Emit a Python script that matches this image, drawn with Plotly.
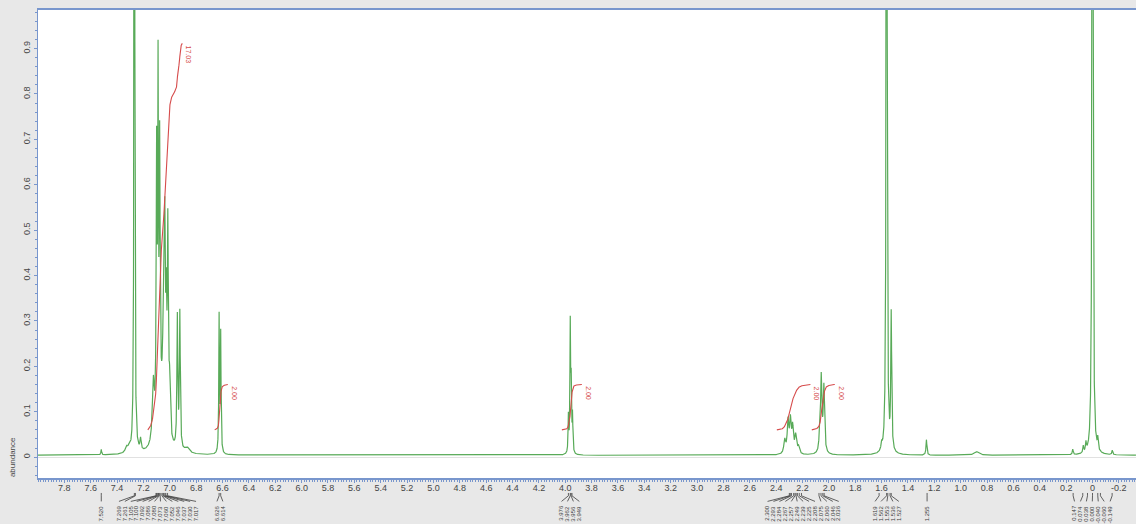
import numpy as np
import plotly.graph_objects as go

# ---- resolved lines of the 1H spectrum: shift (ppm), height, half-width (ppm)
peak_shift = [7.520, 7.330, 7.310, 7.269, 7.222, 7.125, 7.100, 7.089, 7.077, 7.060,
              7.048, 7.038, 7.027, 7.015, 7.002, 6.943, 6.924, 6.870, 6.626, 6.614,
              3.976, 3.962, 3.955, 3.945, 2.335, 2.310, 2.292, 2.275, 2.252, 2.230,
              2.070, 2.058, 2.038, 1.600, 1.562, 1.527, 1.260, 0.880, 0.150, 0.070,
              0.050, 0.000, -0.040, -0.150]
peak_height = [0.012, 0.012, 0.010, 3.000, 0.025, 0.130, 0.600, 0.720, 0.580, 0.100,
               0.200, 0.380, 0.250, 0.430, 0.120, 0.290, 0.300, 0.012, 0.300, 0.260,
               0.080, 0.280, 0.140, 0.080, 0.030, 0.070, 0.070, 0.055, 0.040, 0.015,
               0.030, 0.165, 0.145, 0.015, 3.000, 0.300, 0.034, 0.008, 0.012, 0.015,
               0.020, 5.000, 0.025, 0.010]
peak_hwhm = [0.003, 0.010, 0.010, 0.0025, 0.005, 0.009, 0.004, 0.003, 0.004, 0.030,
             0.006, 0.004, 0.005, 0.004, 0.006, 0.004, 0.004, 0.020, 0.003, 0.003,
             0.003, 0.003, 0.003, 0.003, 0.008, 0.007, 0.007, 0.007, 0.008, 0.008,
             0.006, 0.006, 0.006, 0.005, 0.003, 0.004, 0.004, 0.020, 0.004, 0.004,
             0.004, 0.0025, 0.004, 0.004]
baseline_level = 0.004

# ---- integrated regions (ppm limits) and their relative integrals
integral_start = [7.167, 6.660, 4.026, 2.395, 2.130]
integral_end = [6.905, 6.560, 3.874, 2.140, 1.955]
integral_value = [17.03, 2.00, 2.00, 2.00, 2.00]

# ---- picked peaks printed under the axis
pick_groups = [
    [7.520],
    [7.269, 7.261, 7.105, 7.100, 7.092, 7.086, 7.080, 7.073, 7.060, 7.052, 7.046, 7.037, 7.030, 7.017],
    [6.626, 6.614],
    [3.976, 3.962, 3.956, 3.949],
    [2.300, 2.293, 2.284, 2.267, 2.257, 2.249, 2.239, 2.225, 2.208, 2.075, 2.060, 2.046, 2.036],
    [1.619, 1.562, 1.553, 1.536, 1.527],
    [1.255],
    [0.147, 0.074, 0.038, 0.000, -0.040, -0.060, -0.149],
]

x_range = [8.0, -0.33]
y_range = [-0.046, 0.985]
x_ticks = [7.8, 7.6, 7.4, 7.2, 7.0, 6.8, 6.6, 6.4, 6.2, 6.0, 5.8, 5.6, 5.4, 5.2, 5.0,
           4.8, 4.6, 4.4, 4.2, 4.0, 3.8, 3.6, 3.4, 3.2, 3.0, 2.8, 2.6, 2.4, 2.2, 2.0,
           1.8, 1.6, 1.4, 1.2, 1.0, 0.8, 0.6, 0.4, 0.2, 0.0, -0.2]
y_ticks = [0, 0.1, 0.2, 0.3, 0.4, 0.5, 0.6, 0.7, 0.8, 0.9]

GREEN = "rgb(88,170,88)"
RED = "rgb(214,76,76)"
RULER = "rgb(120,150,205)"
TXT = "rgb(70,70,70)"

# ---- spectrum as a sum of Lorentzian lines
ppm = np.arange(x_range[0], x_range[1], -0.0004)
spec = np.full_like(ppm, baseline_level)
for c, h, w in zip(peak_shift, peak_height, peak_hwhm):
    spec += h * w * w / ((ppm - c) ** 2 + w * w)

fig = go.Figure()
fig.add_trace(go.Scatter(x=ppm, y=spec, mode="lines",
                         line=dict(color=GREEN, width=1.2), hoverinfo="skip"))

# ---- integral curves (running integral, scaled to the stated value)
INT_OFFSET = 0.06
INT_SCALE = 0.05
for s, e, v in zip(integral_start, integral_end, integral_value):
    m = (ppm <= s) & (ppm >= e)
    seg = np.clip(spec[m] - baseline_level, 0, None)
    cum = np.concatenate([[0.0], np.cumsum(0.5 * (seg[1:] + seg[:-1]))])
    cum = cum / cum[-1] * v * INT_SCALE + INT_OFFSET
    fig.add_trace(go.Scatter(x=ppm[m], y=cum, mode="lines",
                             line=dict(color=RED, width=1.1), hoverinfo="skip"))
    fig.add_annotation(x=ppm[m][-1], y=cum[-1], xref="x", yref="y",
                       text=f"{v:.2f}", showarrow=False, textangle=90,
                       xanchor="left", yanchor="top", xshift=1,
                       font=dict(size=7, color=RED, family="Liberation Sans"))

# ---- peak-pick labels with fan connectors below the axis
LABEL_GAP = 0.045  # ppm between neighbouring labels
Y_TOP, Y_MID, Y_BOT, Y_TXT = -0.032, -0.038, -0.050, -0.054
for grp in pick_groups:
    n = len(grp)
    centre = float(np.mean(grp))
    spread = [centre + (n - 1) / 2 * LABEL_GAP - i * LABEL_GAP for i in range(n)]
    if n == 1:
        spread = [grp[0]]
    for p, q in zip(grp, spread):
        fig.add_shape(type="line", xref="x", yref="paper", x0=p, x1=p, y0=Y_TOP, y1=Y_MID,
                      line=dict(color="rgb(60,60,60)", width=0.8))
        fig.add_shape(type="line", xref="x", yref="paper", x0=p, x1=q, y0=Y_MID, y1=Y_BOT,
                      line=dict(color="rgb(60,60,60)", width=0.8))
        fig.add_annotation(x=q, y=Y_TXT, xref="x", yref="paper", text=f"{p:.3f}",
                           showarrow=False, textangle=-90, xanchor="center", yanchor="top",
                           font=dict(size=6, color="rgb(60,60,60)", family="Liberation Sans"))

fig.add_annotation(x=0, y=0, xref="paper", yref="y", text="abundance", showarrow=False,
                   textangle=-90, xshift=-26, xanchor="center", yanchor="middle",
                   font=dict(size=8, color=TXT, family="Liberation Sans"))

fig.update_layout(
    width=1136, height=524,
    margin=dict(l=38, r=0, t=10, b=46),
    paper_bgcolor="rgb(232,232,232)", plot_bgcolor="white",
    showlegend=False,
    xaxis=dict(range=x_range, tickvals=x_ticks,
               ticktext=["0" if t == 0 else f"{t:.1f}" for t in x_ticks],
               showgrid=False, zeroline=False, showline=True, linecolor=RULER, linewidth=1.5,
               mirror=True, ticks="outside", ticklen=3, tickcolor=RULER,
               ticklabelstandoff=-3,
               minor=dict(dtick=0.02, ticks="outside", ticklen=2, tickcolor=RULER),
               tickfont=dict(size=9, color=TXT, family="Liberation Sans")),
    yaxis=dict(range=y_range, tickvals=y_ticks,
               ticktext=["0" if t == 0 else f"{t:.1f}" for t in y_ticks],
               tickangle=-90, showgrid=False, zeroline=True, zerolinecolor="rgb(225,225,225)",
               zerolinewidth=1, showline=True, linecolor=RULER, linewidth=1,
               ticks="outside", ticklen=3, tickcolor=RULER,
               minor=dict(dtick=0.02, ticks="outside", ticklen=2, tickcolor=RULER),
               tickfont=dict(size=9, color=TXT, family="Liberation Sans")),
)

fig.write_html("out.html")
